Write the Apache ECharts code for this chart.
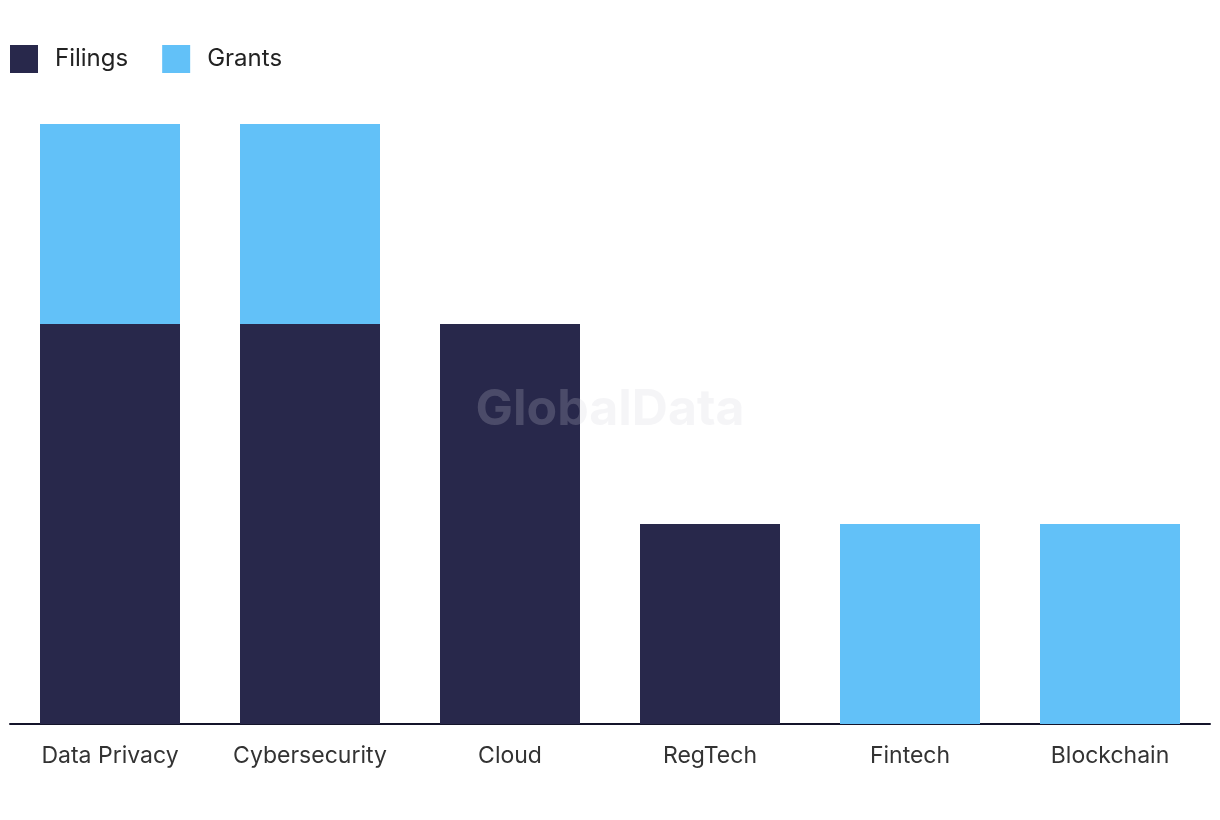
<!DOCTYPE html>
<html>
<head>
<meta charset="utf-8">
<script src="https://cdn.jsdelivr.net/npm/echarts@6/dist/echarts.min.js"></script>
<style>
  html, body { margin: 0; padding: 0; background: #fff; }
  #chart { width: 1220px; height: 820px; }
</style>
</head>
<body>
<div id="chart"></div>
<script>
var categories = ['Data Privacy', 'Cybersecurity', 'Cloud', 'RegTech', 'Fintech', 'Blockchain'];
var filings = [2, 2, 2, 1, 0, 0];
var grants = [1, 1, 0, 0, 1, 1];

var chart = echarts.init(document.getElementById('chart'));

var option = {
  backgroundColor: '#fff',
  textStyle: { fontFamily: 'Inter, "Noto Sans", sans-serif' },
  legend: {
    left: 10,
    top: 45,
    padding: 0,
    itemWidth: 28,
    itemHeight: 28,
    itemGap: 34,
    icon: 'rect',
    textStyle: { fontSize: 24, color: '#222', padding: [0, 0, 0, 12] },
    data: ['Filings', 'Grants']
  },
  grid: { left: 10, right: 10, top: 124, bottom: 96, containLabel: false },
  xAxis: {
    type: 'category',
    data: categories,
    axisLine: { lineStyle: { color: '#14142a', width: 2 } },
    axisTick: { show: false },
    axisLabel: { fontSize: 23, color: '#333', margin: 21 }
  },
  yAxis: {
    type: 'value',
    min: 0,
    max: 3,
    interval: 1,
    show: false,
    splitLine: { show: false }
  },
  graphic: [{
    type: 'text',
    left: 'center',
    top: 385,
    z: 100,
    style: {
      text: 'GlobalData',
      font: 'bold 50px Inter, "Noto Sans", sans-serif',
      fill: 'rgba(210,210,215,0.21)'
    }
  }],
  series: [
    {
      name: 'Filings',
      type: 'bar',
      stack: 'total',
      barWidth: 140,
      itemStyle: { color: '#28284b' },
      data: filings
    },
    {
      name: 'Grants',
      type: 'bar',
      stack: 'total',
      barWidth: 140,
      itemStyle: { color: '#62c1f8' },
      data: grants
    }
  ]
};

chart.setOption(option);
</script>
</body>
</html>
